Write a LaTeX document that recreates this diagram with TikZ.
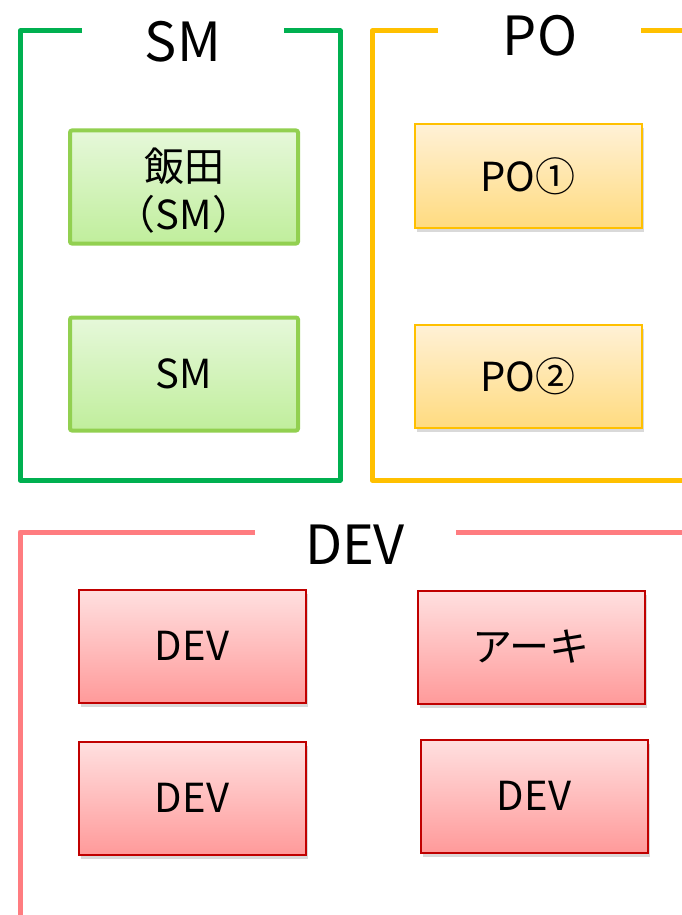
\documentclass[tikz,border=0pt]{standalone}
\usepackage{fontspec}
\setmainfont{Noto Sans CJK JP}
\usetikzlibrary{shadows}
\definecolor{smgreen}{HTML}{00B050}
\definecolor{pogold}{HTML}{FFC000}
\definecolor{devpink}{HTML}{FF7C80}
\definecolor{gborder}{HTML}{92D050}
\definecolor{rborder}{HTML}{C00000}
\definecolor{gtop}{HTML}{E6F8DA}
\definecolor{gbot}{HTML}{C0EE9C}
\definecolor{otop}{HTML}{FFF1D6}
\definecolor{obot}{HTML}{FFDB80}
\definecolor{rtop}{HTML}{FFE0E0}
\definecolor{rbot}{HTML}{FF9A9A}
\begin{document}
\begin{tikzpicture}[x=1pt,y=-1pt,
  bracket/.style={line width=5pt,line join=round,line cap=butt},
  title/.style={font=\fontsize{54}{60}\selectfont,inner sep=0pt},
  boxtext/.style={font=\fontsize{40}{48}\selectfont},
  gbox/.style={draw=gborder,line width=4pt,rounded corners=2pt,top color=gtop,bottom color=gbot,minimum width=228pt,minimum height=113pt,boxtext},
  obox/.style={draw=pogold,line width=2pt,top color=otop,bottom color=obot,minimum width=227pt,minimum height=103pt,boxtext,drop shadow={shadow xshift=2pt,shadow yshift=-4pt,opacity=0.3}},
  rbox/.style={draw=rborder,line width=2pt,top color=rtop,bottom color=rbot,minimum width=227pt,minimum height=113pt,boxtext,drop shadow={shadow xshift=2pt,shadow yshift=-4pt,opacity=0.3}}]
\useasboundingbox (0,0) rectangle (682,915);
% SM group
\draw[bracket,smgreen] (82,31) -- (20,31) -- (20,480) -- (340,480) -- (340,31) -- (284,31);
\node[title] (smt) at (183,42) {SM};
\node[gbox] (iida) at (184,187) {};
\node[boxtext,align=center,inner sep=0pt] (iidat) at (184,191) {飯田\\（SM）};
\node[gbox] (sm) at (184,374) {SM};
% PO group
\draw[bracket,pogold] (438,31) -- (372,31) -- (372,480) -- (682,480);
\draw[bracket,pogold] (641,31) -- (682,31);
\node[title] (pot) at (540,36) {PO};
\node[obox] (po1) at (528,176) {PO①};
\node[obox] (po2) at (528,376) {PO②};
% DEV group
\draw[bracket,devpink] (255,532) -- (20,532) -- (20,915);
\draw[bracket,devpink] (456,532) -- (682,532);
\node[title] (devt) at (355,545) {DEV};
\node[rbox] (d1) at (192,646) {DEV};
\node[rbox] (arch) at (531,647) {アーキ};
\node[rbox] (d3) at (192,798) {DEV};
\node[rbox] (d4) at (534,796) {DEV};
\end{tikzpicture}
\end{document}
